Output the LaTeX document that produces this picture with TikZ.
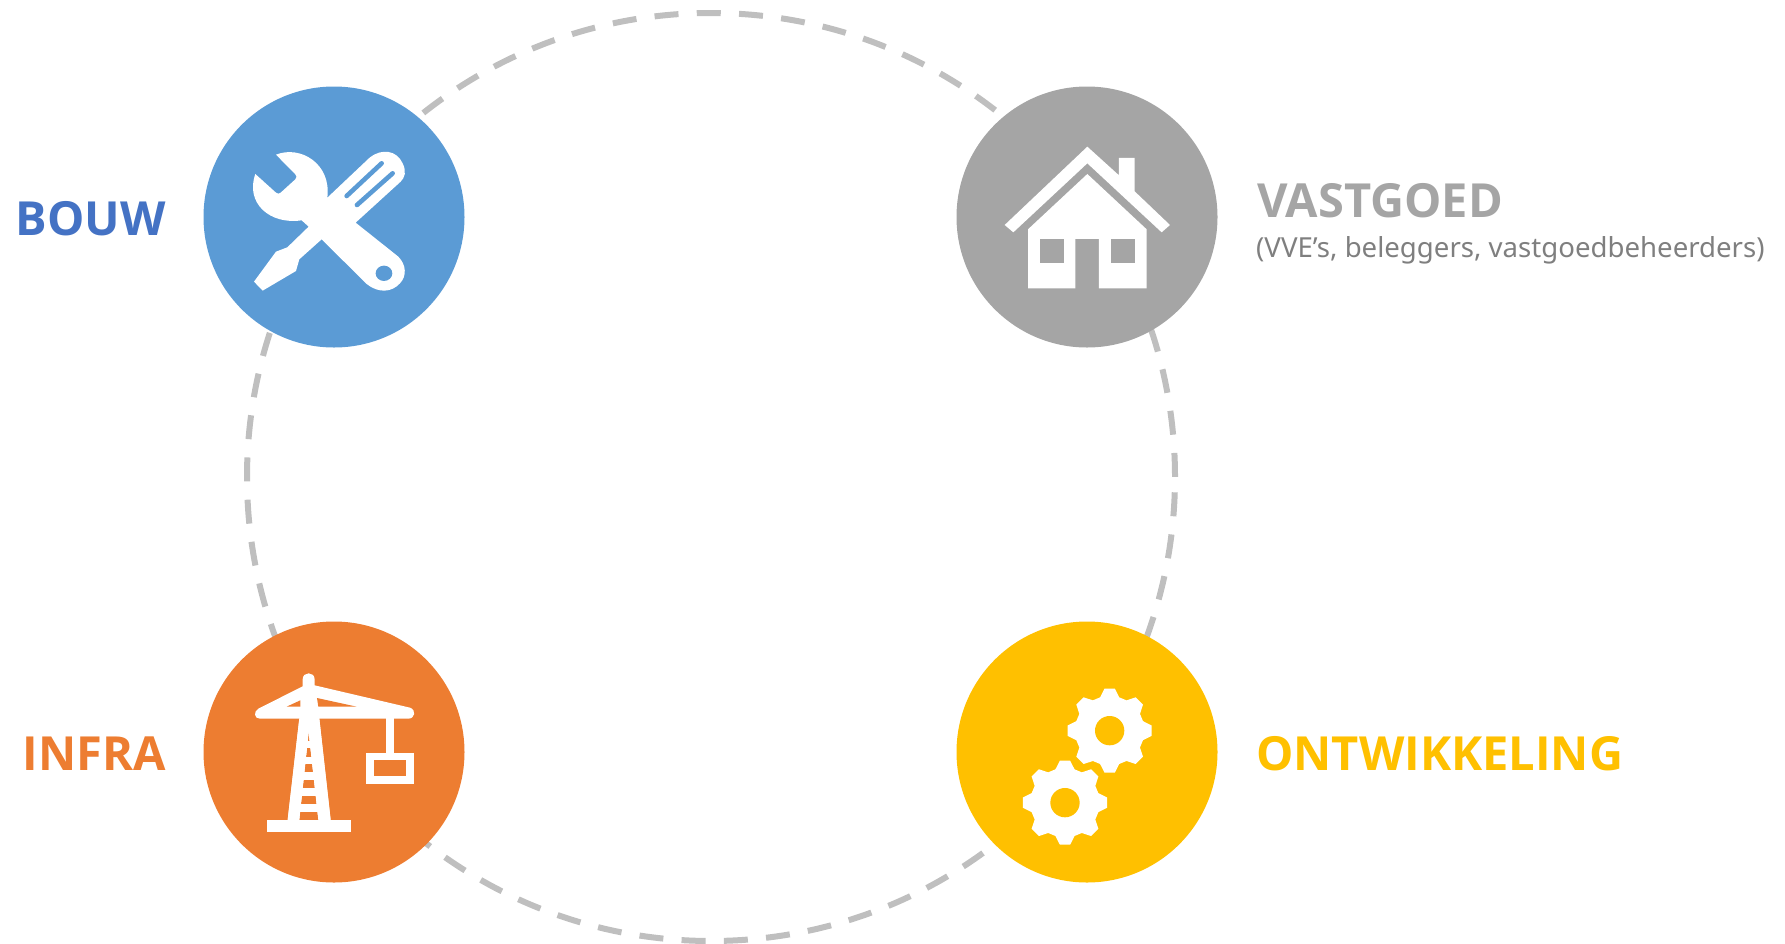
\documentclass[tikz,border=0pt]{standalone}
\usepackage{fontspec}
\setmainfont{Noto Sans}
\newfontfamily\headfont{Open Sans}
\definecolor{cblue}{HTML}{5B9BD5}
\definecolor{cgray}{HTML}{A5A5A5}
\definecolor{corange}{HTML}{ED7D31}
\definecolor{cyellow}{HTML}{FFC000}
\definecolor{ctitle}{HTML}{4472C4}
\definecolor{cring}{HTML}{BFBFBF}
\definecolor{csub}{HTML}{7F7F7F}
\tikzset{
  disc/.style={circle,inner sep=0pt,minimum size=261pt,line width=0pt},
  ringline/.style={draw=cring,line width=6pt,dash pattern=on 24pt off 18.3pt,dash phase=27pt},
  title/.style={inner sep=0pt,font=\fontsize{47}{58}\selectfont\headfont\bfseries},
  subtitle/.style={inner sep=0pt,font=\fontsize{27.6}{36}\selectfont,text=csub},
  icon/.style={fill=white,draw=none},
}
\newcommand{\gearicon}[3]{%
  \fill[#3] ([shift={(#1,#2)}]-16:104)
  \foreach \gt in {0,45,...,315}{
    -- ([shift={(#1,#2)}]\gt-16:104)
    -- ([shift={(#1,#2)}]\gt-7:127)
    -- ([shift={(#1,#2)}]\gt+7:127)
    -- ([shift={(#1,#2)}]\gt+16:104)
  } -- cycle;
}
\begin{document}
\begin{tikzpicture}[x=1pt,y=-1pt]
\useasboundingbox (0,0) rectangle (1785,943);
\coordinate (ringcentre) at (711,477);
\draw[ringline] (ringcentre) circle[radius=464];

\node[disc,fill=cblue]   (bouw) at (334,217) {};
\node[disc,fill=cgray]   (vast) at (1087,217) {};
\node[disc,fill=corange] (infra) at (334,752) {};
\node[disc,fill=cyellow] (ontw) at (1087,752) {};

% tools
\begin{scope}[shift={(190,70)},x=0.3333pt,y=-0.3333pt]
\fill[icon] (258,254) .. controls (330,225) and (425,280) .. (412,383)
  -- (540,262) .. controls (575,235) and (620,240) .. (638,280)
  .. controls (650,305) and (645,322) .. (632,335)
  -- (497,458) -- (625,560) .. controls (650,585) and (650,620) .. (630,640)
  .. controls (605,668) and (565,670) .. (530,642)
  -- (395,508) -- (328,568) -- (318,603) -- (218,662) -- (192,635)
  -- (258,545) -- (292,532) -- (356,470) -- (335,451)
  .. controls (240,465) and (165,400) .. (196,312)
  -- (258,368) .. controls (263,372) and (268,372) .. (272,368)
  -- (316,328) .. controls (321,323) and (321,318) .. (316,313) -- cycle;
\draw[cblue,line width=4.6pt,line cap=round] (470,378) -- (575,280);
\draw[cblue,line width=4.6pt,line cap=round] (501,405) -- (608,310);
\fill[cblue] (582,610) ellipse[x radius=25,y radius=23];
\end{scope}

% house
\begin{scope}[shift={(950,70)},x=0.3333pt,y=-0.3333pt]
\fill[icon] (412,230) -- (507,316) -- (507,264) -- (554,264) -- (554,364)
  -- (660,465) -- (635,487) -- (412,280) -- (190,487) -- (164,465) -- cycle;
\fill[icon] (412,312) -- (590,478) -- (590,655) -- (447,655) -- (447,507)
  -- (376,507) -- (376,655) -- (234,655) -- (234,478) -- cycle;
\fill[cgray] (270,507) rectangle (341,578);
\fill[cgray] (483,507) rectangle (554,578);
\end{scope}

% crane
\begin{scope}[shift={(190,610)},x=0.3333pt,y=-0.3333pt]
\fill[icon] (232,629) rectangle (482,665);
\fill[icon] (205,296) -- (338,229) -- (338,208) .. controls (338,184) and (374,184) .. (374,208)
  -- (374,226) -- (660,293) .. controls (680,300) and (675,326) .. (655,326)
  -- (388,326) -- (422,632) -- (293,632) -- (328,326) -- (210,326)
  .. controls (192,326) and (190,305) .. (205,296) -- cycle;
\fill[corange] (290,290) -- (331,271) -- (331,290) -- cycle;
\fill[corange] (381,264) -- (500,290) -- (385,290) -- cycle;
\fill[corange] (356,368) -- (385,630) -- (328,630) -- cycle;
\foreach \ry in {392,440,487,535,582}
  \fill[icon] (320,\ry) rectangle (395,\ry+23);
\fill[icon] (293,629) -- (328,629) -- (356,368) -- (328,326) -- cycle;
\fill[icon] (422,629) -- (385,629) -- (356,368) -- (388,326) -- cycle;
\fill[icon] (588,320) rectangle (612,430);
\fill[icon] (528,428) rectangle (671,522);
\fill[corange] (552,451) rectangle (648,498);
\end{scope}

% gears
\begin{scope}[shift={(950,610)},x=0.3333pt,y=-0.3333pt]
\gearicon{479}{362}{white}
\gearicon{345}{578}{white}
\fill[cyellow] (479,362) circle[radius=44];
\fill[cyellow] (345,578) circle[radius=44];
\end{scope}

\node[title,text=ctitle,anchor=base east] (bouwlabel) at (166,235) {BOUW};
\node[title,text=corange,anchor=base east] (infralabel) at (166,770) {INFRA};
\node[title,text=cyellow,anchor=base west] (ontwlabel) at (1256,770) {ONTWIKKELING};
\node[title,text=cgray,anchor=base west] (vastlabel) at (1257,217.5) {VASTGOED};
\node[subtitle,anchor=base west] (vastsub) at (1256,257) {(VVE’s, beleggers, vastgoedbeheerders)};
\end{tikzpicture}
\end{document}
